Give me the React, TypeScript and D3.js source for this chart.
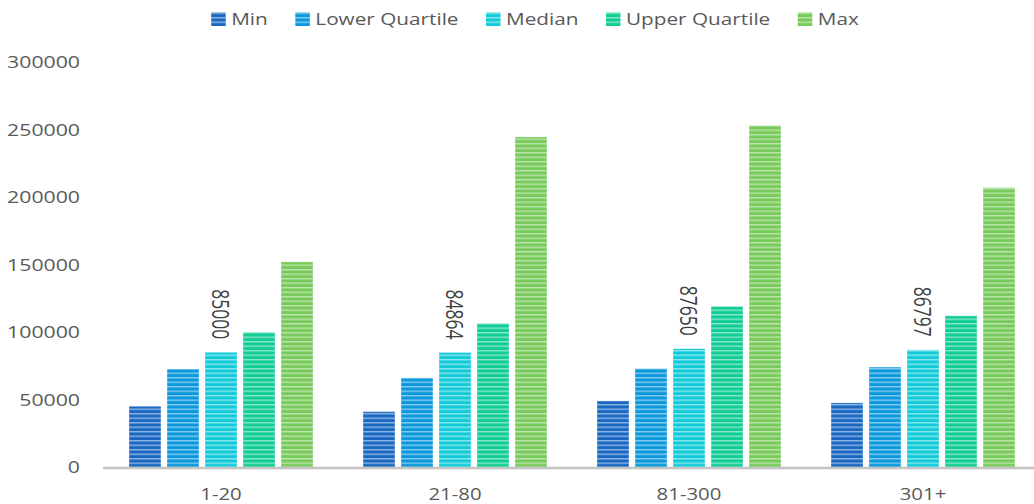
import React, { useEffect, useRef } from "react";
import * as d3 from "d3";

const categories = ["1-20", "21-80", "81-300", "301+"];
const seriesNames = ["Min", "Lower Quartile", "Median", "Upper Quartile", "Max"];
const minVals = [45000, 41000, 49000, 47500];
const lowerVals = [72600, 66000, 73000, 74000];
const medianVals = [85000, 84864, 87650, 86797];
const upperVals = [100000, 106500, 119000, 112000];
const maxVals = [152000, 244500, 253000, 207000];
const yTicks = [0, 50000, 100000, 150000, 200000, 250000, 300000];
const colors = ["#1a68c2", "#0b98dc", "#13cbd8", "#11cc94", "#78ca5c"];

const W = 1034;
const H = 504;
const font = "'Open Sans', sans-serif";
const textColor = "#595959";

const App = () => {
  const ref = useRef<SVGSVGElement>(null);

  useEffect(() => {
    const svg = d3.select(ref.current);
    svg.selectAll("*").remove();

    const values = [minVals, lowerVals, medianVals, upperVals, maxVals];
    const y = d3.scaleLinear().domain([0, 300000]).range([467, 62]);
    const x0 = d3.scaleBand().domain(categories).range([104, 1040]);
    const x1 = d3
      .scaleBand()
      .domain(seriesNames)
      .range([25, 209])
      .paddingInner(0.158);

    // striped fills
    const defs = svg.append("defs");
    seriesNames.forEach((s, i) => {
      const p = defs
        .append("pattern")
        .attr("id", "stripe" + i)
        .attr("patternUnits", "userSpaceOnUse")
        .attr("width", 10)
        .attr("height", 4.5)
        .attr("patternTransform", `translate(0,${y(0)})`);
      p.append("rect").attr("width", 10).attr("height", 4.5).attr("fill", colors[i]);
      p.append("rect")
        .attr("y", 0)
        .attr("width", 10)
        .attr("height", 1.4)
        .attr("fill", "#fff")
        .attr("opacity", 0.5);
    });

    // y tick labels
    svg
      .append("g")
      .selectAll("g")
      .data(yTicks)
      .enter()
      .append("g")
      .attr("transform", (d) => `translate(80,${y(d)}) scale(1.25,1)`)
      .append("text")
      .text((d) => d)
      .attr("text-anchor", "end")
      .attr("dy", "0.36em")
      .attr("font-family", font)
      .attr("font-size", 17)
      .attr("fill", textColor);

    // bars
    const groups = svg
      .append("g")
      .selectAll("g")
      .data(categories)
      .enter()
      .append("g")
      .attr("transform", (d) => `translate(${x0(d)},0)`);

    groups
      .selectAll("rect")
      .data((_, ci) => seriesNames.map((s, si) => ({ s, si, v: values[si][ci] })))
      .enter()
      .append("rect")
      .attr("x", (d) => x1(d.s)!)
      .attr("width", x1.bandwidth())
      .attr("y", (d) => y(d.v))
      .attr("height", (d) => y(0) - y(d.v))
      .attr("fill", (d) => `url(#stripe${d.si})`)
      .attr("stroke", "#fff")
      .attr("stroke-opacity", 0.35)
      .attr("stroke-width", 1);

    // median labels
    groups
      .append("g")
      .attr(
        "transform",
        (d, ci) =>
          `translate(${x1("Median")! + x1.bandwidth() / 2},${y(medianVals[ci]) - 13}) scale(1.4,1) rotate(90)`
      )
      .append("text")
      .text((d, ci) => medianVals[ci])
      .attr("text-anchor", "end")
      .attr("dy", "0.36em")
      .attr("font-family", font)
      .attr("font-size", 17.5)
      .attr("fill", "#404040");

    // x axis
    svg
      .append("line")
      .attr("x1", 103)
      .attr("x2", W)
      .attr("y1", y(0) + 1)
      .attr("y2", y(0) + 1)
      .attr("stroke", "#c4c4c4")
      .attr("stroke-width", 2.5);

    svg
      .append("g")
      .selectAll("g")
      .data(categories)
      .enter()
      .append("g")
      .attr("transform", (d) => `translate(${x0(d)! + 117},500) scale(1.2,1)`)
      .append("text")
      .text((d) => d)
      .attr("text-anchor", "middle")
      .attr("font-family", font)
      .attr("font-size", 17)
      .attr("fill", textColor);

    // legend, laid out from measured text widths
    const sx = 1.22;
    const legend = svg.append("g");
    const items = legend
      .selectAll("g")
      .data(seriesNames)
      .enter()
      .append("g");
    items
      .append("rect")
      .attr("y", 12.5)
      .attr("width", 14.5)
      .attr("height", 13.5)
      .attr("fill", (d, i) => `url(#stripe${i})`);
    items
      .append("g")
      .attr("transform", `translate(20,25) scale(${sx},1)`)
      .append("text")
      .text((d) => d)
      .attr("font-family", font)
      .attr("font-size", 17)
      .attr("fill", textColor);

    const widths: number[] = [];
    items.each(function () {
      const t = d3.select(this).select("text").node() as SVGTextElement;
      widths.push(20 + t.getComputedTextLength() * sx);
    });
    const gap = 27.5;
    const total = d3.sum(widths) + gap * (widths.length - 1);
    let cx = 535 - total / 2;
    items.attr("transform", (d, i) => {
      const tx = cx;
      cx += widths[i] + gap;
      return `translate(${tx},0)`;
    });
  }, []);

  return (
    <svg
      ref={ref}
      width={W}
      height={H}
      style={{ position: "absolute", left: 0, top: 0, background: "#fff" }}
    />
  );
};

export default App;
